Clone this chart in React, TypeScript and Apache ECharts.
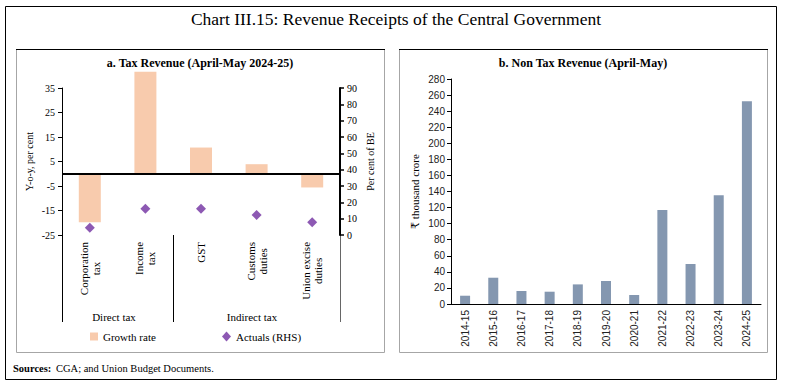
import React, { useEffect, useRef } from "react";
import * as echarts from "echarts";

const taxCategories = ["Corporation\ntax", "Income\ntax", "GST", "Customs\nduties", "Union excise\nduties"];
const growthRate = [-19.8, 41.6, 10.7, 3.9, -5.6];
const actualsRHS = [4.5, 16.1, 16.1, 12.3, 7.8];
const leftTicks = { min: -25, max: 35, interval: 10 };
const rightTicks = { min: 0, max: 90, interval: 10 };

const years = ["2014-15", "2015-16", "2016-17", "2017-18", "2018-19", "2019-20", "2020-21", "2021-22", "2022-23", "2023-24", "2024-25"];
const nonTax = [10.3, 32.7, 16.2, 15.3, 24.4, 28.6, 11.2, 117, 49.8, 135.2, 252.2];
const nonTaxTicks = { min: 0, max: 280, interval: 20 };

const SERIF = "'Liberation Serif', 'DejaVu Serif', serif";
const SANS = "'Liberation Sans', 'DejaVu Sans', sans-serif";

export default function App() {
  const ref = useRef<HTMLDivElement>(null);
  useEffect(() => {
    document.body.style.margin = "0";
    const chart = echarts.init(ref.current!, null, { renderer: "svg" });
    const gA = { left: 62, top: 88, width: 278, height: 147 };
    const gB = { left: 451, top: 79, width: 310, height: 225 };
    const option: any = {
      animation: false,
      backgroundColor: "#fff",
      grid: [
        { ...gA, containLabel: false },
        { ...gB, containLabel: false },
      ],
      legend: [
        {
          data: ["Growth rate"], left: 90, top: 331, padding: 0, icon: "rect",
          itemWidth: 8, itemHeight: 8, itemGap: 5,
          textStyle: { fontFamily: SERIF, fontSize: 11, color: "#000" },
        },
        {
          data: ["Actuals (RHS)"], left: 222, top: 331, padding: 0, icon: "diamond",
          itemWidth: 9, itemHeight: 10,
          textStyle: { fontFamily: SERIF, fontSize: 11, color: "#000" },
        },
      ],
      xAxis: [
        {
          type: "category", gridIndex: 0, data: taxCategories,
          axisLine: { show: false }, axisTick: { show: false },
          axisLabel: {
            rotate: 90, margin: 7, interval: 0,
            formatter: (v: string) => v.split("\n").map((s) => `{c|${s}}`).join("\n"),
            rich: { c: { align: "center", fontFamily: SERIF, fontSize: 11, color: "#000", lineHeight: 12 } },
          },
        },
        {
          type: "category", gridIndex: 1, data: years,
          axisLine: { show: true, lineStyle: { color: "#000", width: 1 } },
          axisTick: { show: false },
          axisLabel: { rotate: 90, margin: 6, interval: 0, fontFamily: SANS, fontSize: 10, color: "#222" },
        },
      ],
      yAxis: [
        {
          type: "value", gridIndex: 0, position: "left", ...leftTicks,
          name: "Y-o-y, per cent", nameLocation: "middle", nameRotate: 90, nameGap: 28,
          nameTextStyle: { fontFamily: SERIF, fontSize: 10, color: "#000" },
          splitLine: { show: false },
          axisLine: { show: true, lineStyle: { color: "#000", width: 1 } },
          axisTick: { show: true, length: 4, lineStyle: { color: "#000" } },
          axisLabel: { fontFamily: SERIF, fontSize: 10, color: "#000", margin: 7 },
        },
        {
          type: "value", gridIndex: 0, position: "right", ...rightTicks,
          name: "Per cent of BE", nameLocation: "middle", nameRotate: 90, nameGap: 25,
          nameTextStyle: { fontFamily: SERIF, fontSize: 10, color: "#000" },
          splitLine: { show: false },
          axisLine: { show: true, lineStyle: { color: "#000", width: 2 } },
          axisTick: { show: true, length: 4, lineStyle: { color: "#000", width: 1.5 } },
          axisLabel: { fontFamily: SERIF, fontSize: 10, color: "#000", margin: 7 },
        },
        {
          type: "value", gridIndex: 1, position: "left", ...nonTaxTicks,
          name: "₹ thousand crore", nameLocation: "middle", nameRotate: 90, nameGap: 31,
          nameTextStyle: { fontFamily: SERIF, fontSize: 11, color: "#000" },
          splitLine: { show: false },
          axisLine: { show: true, lineStyle: { color: "#000", width: 1 } },
          axisTick: { show: true, length: 4, lineStyle: { color: "#000" } },
          axisLabel: { fontFamily: SANS, fontSize: 10, color: "#222", margin: 6 },
        },
      ],
      series: [
        {
          name: "Growth rate", type: "bar", xAxisIndex: 0, yAxisIndex: 0,
          data: growthRate, barWidth: 22, clip: false,
          itemStyle: { color: "#F8CBAD" },
          markLine: {
            silent: true, symbol: "none", label: { show: false },
            lineStyle: { color: "#000", width: 2, type: "solid" },
            data: [{ yAxis: 0 }],
          },
        },
        {
          name: "Actuals (RHS)", type: "scatter", xAxisIndex: 0, yAxisIndex: 1,
          data: actualsRHS, symbol: "diamond", symbolSize: [10, 10],
          itemStyle: { color: "#7030A0" },
        },
        {
          name: "Non tax revenue", type: "bar", xAxisIndex: 1, yAxisIndex: 2,
          data: nonTax, barWidth: 10,
          itemStyle: { color: "#8497B0" },
        },
      ],
      graphic: [
        { type: "rect", shape: { x: 5.5, y: 6.5, width: 771, height: 373 }, style: { fill: "none", stroke: "#000", lineWidth: 1 }, z: -1 },
        { type: "text", x: 396, y: 19, style: { text: "Chart III.15: Revenue Receipts of the Central Government", font: `17.5px ${SERIF}`, fill: "#000", textAlign: "center", textVerticalAlign: "middle" } },
        { type: "rect", shape: { x: 16.5, y: 49.5, width: 368, height: 303 }, style: { fill: "none", stroke: "#a6a6a6", lineWidth: 1 }, z: -1 },
        { type: "line", shape: { x1: 16, y1: 49.5, x2: 385, y2: 49.5 }, style: { stroke: "#000", lineWidth: 1 } },
        { type: "rect", shape: { x: 399.5, y: 49.5, width: 368, height: 303 }, style: { fill: "none", stroke: "#a6a6a6", lineWidth: 1 }, z: -1 },
        { type: "line", shape: { x1: 399, y1: 49.5, x2: 768, y2: 49.5 }, style: { stroke: "#000", lineWidth: 1 } },
        { type: "text", x: 200, y: 63, style: { text: "a. Tax Revenue (April-May 2024-25)", font: `bold 12px ${SERIF}`, fill: "#000", textAlign: "center", textVerticalAlign: "middle" } },
        { type: "text", x: 583, y: 63, style: { text: "b. Non Tax Revenue (April-May)", font: `bold 12px ${SERIF}`, fill: "#000", textAlign: "center", textVerticalAlign: "middle" } },
        { type: "line", shape: { x1: 62.5, y1: 235, x2: 62.5, y2: 322 }, style: { stroke: "#000", lineWidth: 1 } },
        { type: "line", shape: { x1: 173.5, y1: 235, x2: 173.5, y2: 322 }, style: { stroke: "#000", lineWidth: 1 } },
        { type: "line", shape: { x1: 340.5, y1: 235, x2: 340.5, y2: 322 }, style: { stroke: "#666", lineWidth: 1 } },
        { type: "text", x: 114, y: 317, style: { text: "Direct tax", font: `11px ${SERIF}`, fill: "#000", textAlign: "center", textVerticalAlign: "middle" } },
        { type: "text", x: 252, y: 317, style: { text: "Indirect tax", font: `11px ${SERIF}`, fill: "#000", textAlign: "center", textVerticalAlign: "middle" } },
        { type: "text", x: 13, y: 368, style: { text: "Sources:", font: `bold 10.5px ${SERIF}`, fill: "#000", textAlign: "left", textVerticalAlign: "middle" } },
        { type: "text", x: 56, y: 368, style: { text: "CGA; and Union Budget Documents.", font: `10.5px ${SERIF}`, fill: "#000", textAlign: "left", textVerticalAlign: "middle" } },
      ],
    };
    chart.setOption(option);
    return () => chart.dispose();
  }, []);
  return <div ref={ref} style={{ position: "absolute", left: 0, top: 0, width: 785, height: 385 }} />;
}
